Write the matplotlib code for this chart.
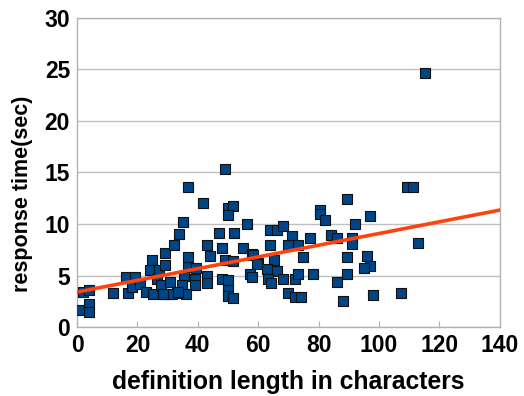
import numpy as np
import matplotlib
matplotlib.use('Agg')
import matplotlib.pyplot as plt

plt.rcParams['font.family'] = ['Liberation Sans', 'DejaVu Sans']

# definition length (characters) vs response time (sec)
def_length = [1.0, 4, 4, 1.9, 4, 11.8, 16.2, 17, 18.1, 19.2, 20.9, 23, 24.9, 24.2, 25,
              26.6, 27.3, 29.1, 29.1, 27.7, 28.8, 30.8, 31.4, 32.1, 33.9, 35, 36.9, 41.8,
              35.4, 34.7, 36.9, 36.9, 39, 39, 36.1, 33.2, 43, 44, 43, 43, 47.1, 47.9, 47.9,
              49, 50.1, 51.8, 50.1, 56.2, 52, 55.1, 49, 51.8, 57.8, 60, 63.9, 66.1, 68.1,
              71.1, 63.9, 70, 73.1, 77.2, 74.9, 65.2, 50.1, 50.1, 50.1, 51.8, 57.3, 57.8,
              62.8, 66.1, 63.3, 64.1, 68.3, 72, 73.1, 78, 70, 72, 74.2, 86, 88, 80.5, 80.5,
              82.1, 84, 86, 89.3, 89.3, 89.3, 115.2, 109.2, 111.2, 97, 92, 91, 91, 113, 96,
              97, 95, 98.1, 107.2, 39.4, 30.8, 33.5, 58.2, 59.5, 28.4]
resp_time = [1.7, 2.2, 1.5, 3.4, 3.6, 3.3, 4.9, 3.3, 3.85, 4.9, 4.2, 3.4, 6.5, 5.5, 3.2,
             4.7, 5.5, 6.0, 7.15, 4.1, 3.2, 4.4, 3.2, 8.0, 9.0, 10.2, 13.6, 12.0,
             4.95, 4.1, 5.85, 6.8, 4.7, 4.1, 3.2, 3.3, 8.0, 6.9, 4.95, 4.25, 9.1, 7.7, 4.7,
             15.3, 11.6, 11.75, 10.9, 10.0, 9.15, 7.7, 6.5, 6.4, 7.1, 6.2, 9.4, 9.4, 9.8,
             8.85, 8.0, 8.0, 8.0, 8.6, 6.8, 6.5, 4.6, 3.6, 3.0, 2.8, 5.15, 4.9,
             5.6, 5.4, 4.7, 4.3, 4.7, 4.7, 5.15, 5.15, 3.35, 2.95, 2.95, 4.35, 2.5, 11.35, 10.95,
             10.4, 8.9, 8.6, 12.4, 6.8, 5.15, 24.6, 13.6, 13.6, 10.8, 10.0, 8.6, 8.1, 8.2, 6.9,
             5.95, 5.75, 3.1, 3.35, 5.7, 3.2, 3.4, 7.0, 6.1, 3.2]

# linear trend line
trend_intercept = 3.4
trend_slope = 0.0568

x_ticks = [0, 20, 40, 60, 80, 100, 120, 140]
y_ticks = [0, 5, 10, 15, 20, 25, 30]

fig = plt.figure(figsize=(5.24, 3.96), dpi=100)
ax = fig.add_axes([0.147, 0.174, 0.807, 0.781])

ax.scatter(def_length, resp_time, marker='s', s=62, c='#004586',
           edgecolors='#111111', linewidths=0.8, zorder=3)

tx = np.array([0, 140])
ax.plot(tx, trend_intercept + trend_slope * tx, color='#ff420e', lw=2.6, zorder=4)

ax.set_xlim(0, 140)
ax.set_ylim(0, 30)
ax.set_xticks(x_ticks)
ax.set_yticks(y_ticks)
ax.yaxis.grid(True, color='#c0c0c0', lw=1)
ax.set_axisbelow(True)
for s in ax.spines.values():
    s.set_color('#b3b3b3')
    s.set_linewidth(1)
ax.tick_params(axis='x', direction='in', length=4, color='#b3b3b3', pad=5)
ax.tick_params(axis='y', length=0, pad=5)
for lab in ax.get_xticklabels() + ax.get_yticklabels():
    lab.set_fontsize(16.5)
    lab.set_fontweight('bold')

ax.set_xlabel('definition length in characters', fontsize=17.8, fontweight='bold')
ax.xaxis.set_label_coords(0.5, -0.14)
ax.set_ylabel('response time(sec)', fontsize=15.5, fontweight='bold')
ax.yaxis.set_label_coords(-0.104, 0.43)

fig.savefig('out.png', dpi=100)
